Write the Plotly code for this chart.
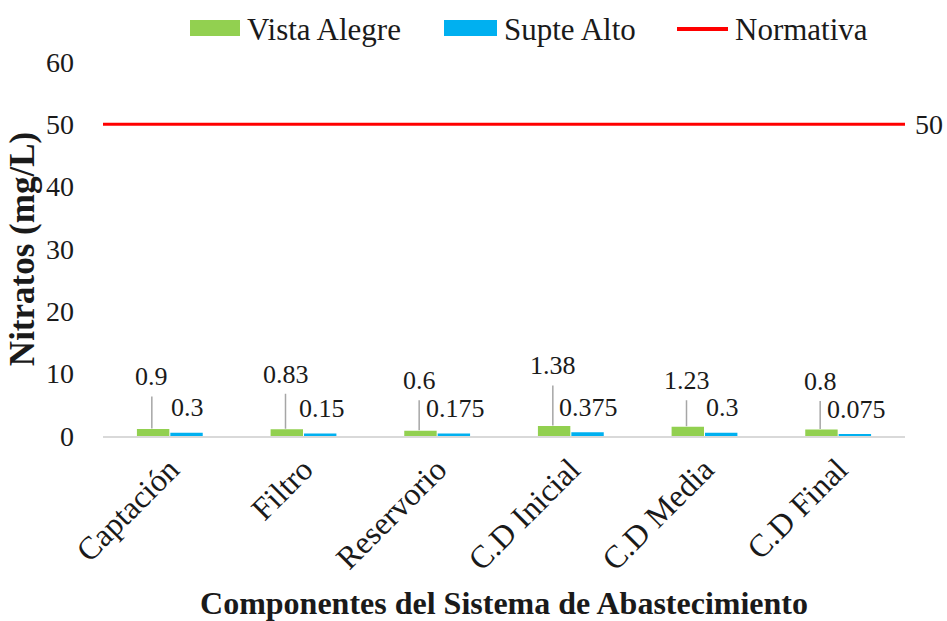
import plotly.graph_objects as go

# Nitrate concentration (mg/L) along the water supply system
componentes = ["Captación", "Filtro", "Reservorio", "C.D Inicial", "C.D Media", "C.D Final"]
vista_alegre = [0.9, 0.83, 0.6, 1.38, 1.23, 0.8]
supte_alto = [0.3, 0.15, 0.175, 0.375, 0.3, 0.075]
normativa = 50

FONT = "Liberation Serif"
TXT = "#1a1a1a"
GREEN = "#92D050"
BLUE = "#00B0F0"
RED = "#FF0000"

W, H = 947, 621
ML, MR, MT, MB = 103, 42, 62, 185
PW, PH = W - ML - MR, H - MT - MB


def px(xp):
    """pixel x -> paper x"""
    return (xp - ML) / PW


def py(yp):
    """pixel y -> paper y"""
    return (H - MB - yp) / PH


fig = go.Figure()

fig.add_trace(go.Bar(
    name="Vista Alegre", x=componentes, y=vista_alegre,
    marker=dict(color=GREEN, line=dict(color=GREEN, width=3)),
    showlegend=False,
))
fig.add_trace(go.Bar(
    name="Supte Alto", x=componentes, y=supte_alto,
    marker=dict(color=BLUE, line=dict(color=BLUE, width=3)),
    showlegend=False,
))

# Regulatory limit spanning the full plot width on an overlay axis
fig.add_trace(go.Scatter(
    name="Normativa", x=[0, 1], y=[normativa, normativa],
    xaxis="x2", mode="lines", line=dict(color=RED, width=3),
    hoverinfo="skip", showlegend=False,
))

# Leader-line lengths (px) for the Vista Alegre value labels
leader = [32, 35, 30, 40, 26, 28]

annotations = []
for i, (cat, va, sa) in enumerate(zip(componentes, vista_alegre, supte_alto)):
    annotations.append(dict(
        x=cat, y=va, xref="x", yref="y", xshift=-18, yshift=2,
        text=str(va), showarrow=True, arrowhead=0, arrowwidth=1.5,
        arrowcolor="#A6A6A6", ax=0, ay=-leader[i], standoff=0,
        yanchor="bottom", borderpad=4,
        font=dict(family=FONT, size=26, color=TXT),
    ))
    annotations.append(dict(
        x=cat, y=sa, xref="x", yref="y", xshift=18, yshift=10,
        text=str(sa), showarrow=False, yanchor="bottom",
        font=dict(family=FONT, size=26, color=TXT),
    ))

annotations.append(dict(
    x=1, y=normativa, xref="paper", yref="y", xanchor="left", xshift=8,
    text=str(normativa), showarrow=False,
    font=dict(family=FONT, size=28, color=TXT),
))

# Legend drawn as swatches + labels above the plot
legend_items = [
    ("Vista Alegre", GREEN, "box", 190, 240),
    ("Supte Alto", BLUE, "box", 444, 497),
    ("Normativa", RED, "line", 677, 728),
]
shapes = []
for label, color, kind, x0, x1 in legend_items:
    if kind == "box":
        shapes.append(dict(
            type="rect", xref="paper", yref="paper",
            x0=px(x0), x1=px(x1), y0=py(36), y1=py(20),
            fillcolor=color, line=dict(width=0),
        ))
    else:
        shapes.append(dict(
            type="line", xref="paper", yref="paper",
            x0=px(x0), x1=px(x1), y0=py(29), y1=py(29),
            line=dict(color=color, width=4),
        ))
    annotations.append(dict(
        x=px(x1 + 5), y=py(29), xref="paper", yref="paper",
        xanchor="left", yanchor="middle", text=label, showarrow=False,
        font=dict(family=FONT, size=31, color=TXT),
    ))

fig.update_layout(
    width=W, height=H,
    margin=dict(l=ML, r=MR, t=MT, b=MB),
    paper_bgcolor="white", plot_bgcolor="white",
    font=dict(family=FONT, size=28, color=TXT),
    barmode="group", bargap=0.5, bargroupgap=0.12,
    showlegend=False,
    xaxis=dict(
        type="category", tickangle=-45, automargin=False,
        showline=True, linecolor="#D9D9D9", linewidth=2,
        ticks="", showgrid=False,
        tickfont=dict(family=FONT, size=32, color=TXT),
        title=dict(
            text="<b>Componentes del Sistema de Abastecimiento</b>",
            font=dict(family=FONT, size=32, color=TXT), standoff=18,
        ),
    ),
    xaxis2=dict(overlaying="x", range=[0, 1], visible=False, fixedrange=True),
    yaxis=dict(
        range=[0, 60], dtick=10, showgrid=False, zeroline=False,
        showline=False, ticks="", ticklabelstandoff=28, automargin=False,
        tickfont=dict(family=FONT, size=28, color=TXT),
        title=dict(
            text="<b>Nitratos (mg/L)</b>",
            font=dict(family=FONT, size=35, color=TXT), standoff=0,
        ),
    ),
    shapes=shapes,
    annotations=annotations,
)

fig.write_html("out.html")
